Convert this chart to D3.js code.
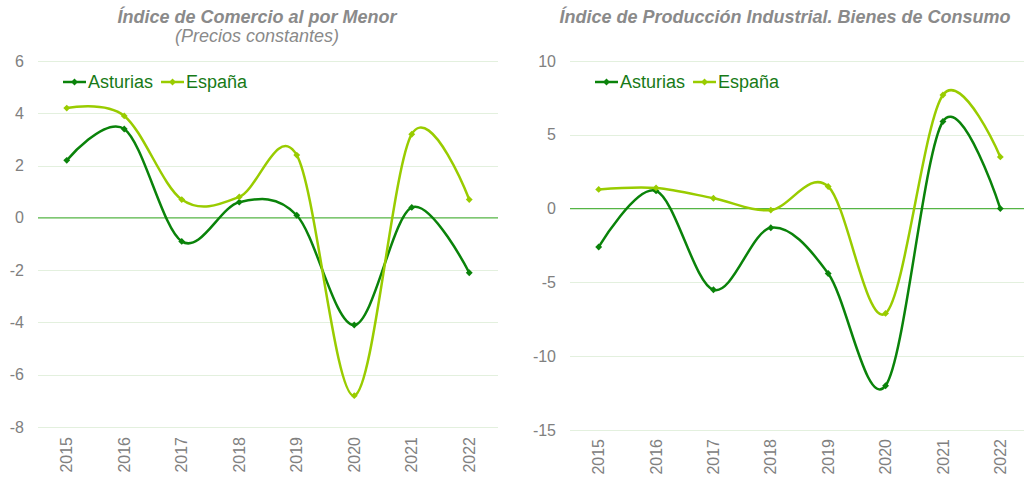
<!DOCTYPE html>
<html>
<head>
<meta charset="utf-8">
<script src="https://cdnjs.cloudflare.com/ajax/libs/d3/7.8.5/d3.min.js"></script>
<style>
body { margin: 0; background: #fff; }
svg { display: block; font-family: "Liberation Sans", Arial, sans-serif; }
</style>
</head>
<body>
<script>
var years = ["2015", "2016", "2017", "2018", "2019", "2020", "2021", "2022"];
var seriesNames = ["Asturias", "España"];

// Índice de Comercio al por Menor
var comercioAsturias = [2.2, 3.4, -0.9, 0.6, 0.1, -4.1, 0.4, -2.1];
var comercioEspana = [4.2, 3.9, 0.7, 0.8, 2.4, -6.8, 3.2, 0.7];
var comercioTicks = [6, 4, 2, 0, -2, -4, -6, -8];

// Índice de Producción Industrial. Bienes de Consumo
var produccionAsturias = [-2.6, 1.2, -5.5, -1.3, -4.4, -12.0, 5.9, 0.0];
var produccionEspana = [1.3, 1.4, 0.7, -0.1, 1.5, -7.1, 7.7, 3.5];
var produccionTicks = [10, 5, 0, -5, -10, -15];

var colors = ["#0a830a", "#99cc00"];

var svg = d3.select("body").append("svg")
	.attr("width", 1024)
	.attr("height", 480);

function drawChart(opt) {
	var g = svg.append("g");

	var x = d3.scaleBand()
		.domain(years)
		.range([opt.left, opt.right]);

	var y = d3.scaleLinear()
		.domain([d3.min(opt.ticks), d3.max(opt.ticks)])
		.range([opt.bottom, opt.top]);

	// title
	g.append("text")
		.attr("x", opt.titleX)
		.attr("y", 23)
		.attr("text-anchor", "middle")
		.style("font-size", "18px")
		.style("font-weight", "bold")
		.style("font-style", "italic")
		.style("fill", "#8a8a8a")
		.text(opt.title);
	if (opt.subtitle) {
		g.append("text")
			.attr("x", opt.titleX)
			.attr("y", 42)
			.attr("text-anchor", "middle")
			.style("font-size", "18px")
			.style("font-style", "italic")
			.style("fill", "#8a8a8a")
			.text(opt.subtitle);
	}

	// grid
	g.selectAll(".grid")
		.data(opt.ticks.filter(function(d){ return d !== 0; }))
		.enter().append("line")
			.attr("x1", opt.left)
			.attr("x2", opt.gridRight)
			.attr("y1", function(d){ return Math.round(y(d)) + 0.5; })
			.attr("y2", function(d){ return Math.round(y(d)) + 0.5; })
			.style("stroke", "#e3f0de")
			.style("stroke-width", 1);

	// y labels (plain hyphen minus like the original)
	var yAxis = d3.axisLeft(y)
		.tickValues(opt.ticks)
		.tickFormat(function(d){ return String(d); })
		.tickSize(0)
		.tickPadding(0);
	var ya = g.append("g")
		.attr("transform", "translate(" + opt.labelX + ",0)")
		.call(yAxis);
	ya.select(".domain").remove();
	ya.selectAll("text")
		.style("font-size", "16px")
		.style("font-family", "'Liberation Sans', Arial, sans-serif")
		.style("fill", "#808080");

	// x labels
	var xAxis = d3.axisBottom(x).tickSize(0).tickPadding(0);
	var xa = g.append("g")
		.attr("transform", "translate(0," + opt.xLabelY + ")")
		.call(xAxis);
	xa.select(".domain").remove();
	xa.selectAll("text")
		.attr("transform", "rotate(-90)")
		.attr("x", 0)
		.attr("y", 0)
		.attr("dy", "0.35em")
		.style("text-anchor", "end")
		.style("font-size", "16px")
		.style("font-family", "'Liberation Sans', Arial, sans-serif")
		.style("fill", "#808080");

	// zero line
	g.append("line")
		.attr("x1", opt.left)
		.attr("x2", opt.gridRight)
		.attr("y1", y(0))
		.attr("y2", y(0))
		.style("stroke", "#55b545")
		.style("stroke-width", 1.4);

	var line = d3.line()
		.x(function(d, i){ return x(years[i]) + x.bandwidth() / 2; })
		.y(function(d){ return y(d); })
		.curve(d3.curveCardinal.tension(0));

	var marker = d3.symbol().type(d3.symbolDiamond2 || d3.symbolDiamond).size(30);

	opt.series.forEach(function(vals, s) {
		g.append("path")
			.datum(vals)
			.attr("d", line)
			.style("fill", "none")
			.style("stroke", colors[s])
			.style("stroke-width", 2.5);

		g.selectAll(".pt" + s)
			.data(vals)
			.enter().append("path")
				.attr("d", marker)
				.attr("transform", function(d, i){
					return "translate(" + (x(years[i]) + x.bandwidth() / 2) + "," + y(d) + ")";
				})
				.style("fill", colors[s]);
	});

	// legend
	var lx = opt.legendX;
	seriesNames.forEach(function(name, s) {
		var lg = g.append("g").attr("transform", "translate(" + lx + ",82)");
		lg.append("line")
			.attr("x1", 0).attr("x2", 23)
			.style("stroke", colors[s])
			.style("stroke-width", 2.5);
		lg.append("path")
			.attr("d", marker)
			.attr("transform", "translate(11.5,0)")
			.style("fill", colors[s]);
		var t = lg.append("text")
			.attr("x", 25)
			.attr("dy", "0.35em")
			.style("font-size", "18px")
			.style("fill", "#177a17")
			.text(name);
		lx += 25 + t.node().getComputedTextLength() + 8;
	});
}

drawChart({
	title: "Índice de Comercio al por Menor",
	subtitle: "(Precios constantes)",
	titleX: 257,
	left: 38, right: 498, gridRight: 498,
	top: 61, bottom: 427,
	labelX: 24,
	xLabelY: 437,
	legendX: 63,
	ticks: comercioTicks,
	series: [comercioAsturias, comercioEspana]
});

drawChart({
	title: "Índice de Producción Industrial. Bienes de Consumo",
	subtitle: null,
	titleX: 785,
	left: 570, right: 1029, gridRight: 1024,
	top: 61, bottom: 430,
	labelX: 556,
	xLabelY: 439,
	legendX: 595,
	ticks: produccionTicks,
	series: [produccionAsturias, produccionEspana]
});
</script>
</body>
</html>
